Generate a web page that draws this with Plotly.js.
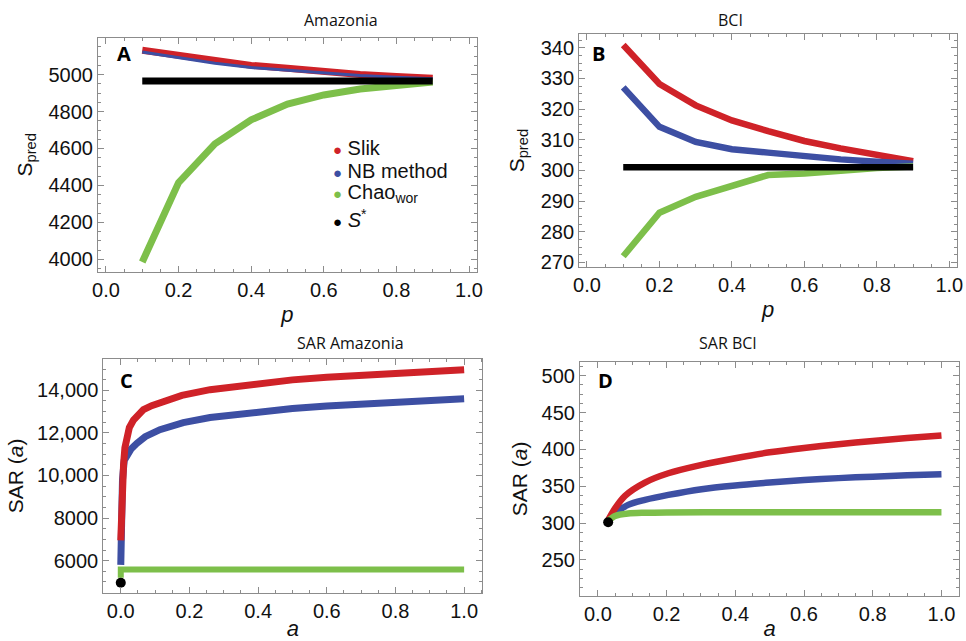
<!DOCTYPE html>
<html>
<head>
<meta charset="utf-8">
<script src="https://cdn.plot.ly/plotly-3.0.1.min.js"></script>
<style>html,body{margin:0;padding:0;background:#fff;}#chart{width:966px;height:641px;}</style>
</head>
<body>
<div id="chart"></div>
<script>
// ---- Panel A: Amazonia ----
const pA = [0.1, 0.2, 0.3, 0.4, 0.5, 0.6, 0.7, 0.8, 0.9];
const slikA = [5132, 5105, 5078, 5050, 5035, 5015, 5000, 4990, 4980];
const nbA   = [5122, 5092, 5062, 5038, 5024, 5008, 4995, 4986, 4978];
const chaoA = [3985, 4415, 4625, 4755, 4840, 4890, 4922, 4944, 4960];
const sStarA = 4965;
const pStarA = [0.1, 0.9];

// ---- Panel B: BCI ----
const pB = [0.1, 0.2, 0.3, 0.4, 0.5, 0.6, 0.7, 0.8, 0.9];
const slikB = [340.9, 328.2, 321.2, 316.3, 312.8, 309.6, 307.2, 304.9, 303.0];
const nbB   = [327.1, 314.2, 309.3, 306.9, 305.8, 304.5, 303.6, 302.8, 302.2];
const chaoB = [272.0, 286.2, 291.4, 295.2, 298.5, 299.0, 300.0, 300.8, 301.3];
const sStarB = 301;
const pStarB = [0.1, 0.9];

// ---- Panel C: SAR Amazonia ----
const aSlikC = [0, 0.002, 0.005, 0.008, 0.012, 0.017, 0.025, 0.037, 0.05, 0.066, 0.09, 0.114, 0.178, 0.26, 0.4, 0.5, 0.6, 0.7, 0.8, 0.9, 1.0];
const slikC  = [6950, 8500, 9600, 10500, 11300, 11820, 12250, 12600, 12850, 13090, 13280, 13420, 13760, 14030, 14340, 14490, 14610, 14720, 14810, 14895, 14970];
const aNbC   = [0, 0.002, 0.005, 0.01, 0.02, 0.03, 0.047, 0.071, 0.114, 0.182, 0.26, 0.4, 0.5, 0.6, 0.7, 0.8, 0.9, 1.0];
const nbC    = [5800, 8000, 9800, 10700, 11050, 11250, 11510, 11822, 12150, 12480, 12720, 13010, 13150, 13260, 13360, 13445, 13525, 13600];
const aChaoC = [0, 0, 1.0];
const chaoC  = [5200, 5580, 5580];
const sStarC = 4965;

// ---- Panel D: SAR BCI ----
const aSlikD = [0.03, 0.05, 0.079, 0.137, 0.205, 0.302, 0.4, 0.5, 0.6, 0.7, 0.8, 0.9, 1.0];
const slikD  = [304, 320, 337, 355, 367.6, 379, 388, 396, 402, 407, 411.5, 415.5, 419];
const aNbD   = [0.03, 0.05, 0.088, 0.137, 0.205, 0.302, 0.4, 0.5, 0.6, 0.7, 0.8, 0.9, 1.0];
const nbD    = [304, 313.4, 324.7, 331.4, 338.2, 346, 351, 355, 358.5, 361, 363, 365, 366.3];
const aChaoD = [0.03, 0.05, 0.088, 0.137, 0.2, 0.4, 0.6, 0.8, 1.0];
const chaoD  = [303, 309.7, 313, 314, 314.5, 314.6, 314.7, 314.8, 314.8];
const aStarD = 0.03;
const sStarD = 301;

// tick labels
const xTicks = [0, 0.2, 0.4, 0.6, 0.8, 1.0];
const xTickText = ['0.0', '0.2', '0.4', '0.6', '0.8', '1.0'];
const yTicksA = [4000, 4200, 4400, 4600, 4800, 5000];
const yTicksB = [270, 280, 290, 300, 310, 320, 330, 340];
const yTicksC = [6000, 8000, 10000, 12000, 14000];
const yTickTextC = ['6000', '8000', '10,000', '12,000', '14,000'];
const yTicksD = [250, 300, 350, 400, 450, 500];

const seriesNames = ['Slik', 'NB method', 'Chao<sub>wor</sub>', '<i>S</i><sup>*</sup>'];

const RED = '#cf2228', BLUE = '#3d4fa3', GREEN = '#7dbf4a', BLACK = '#000000';
const colors = [RED, BLUE, GREEN, BLACK];

function ln(x, y, color, w, xa, ya, shape) {
  return {x: x, y: y, mode: 'lines', line: {color: color, width: w, shape: shape || 'linear', smoothing: 0.8},
          xaxis: xa, yaxis: ya, showlegend: false, hoverinfo: 'skip'};
}
function dot(x, y, xa, ya) {
  return {x: x, y: y, mode: 'markers', marker: {color: BLACK, size: 10}, xaxis: xa, yaxis: ya,
          showlegend: false, hoverinfo: 'skip'};
}

const traces = [
  ln(pA, slikA, RED, 7, 'x', 'y'),
  ln(pA, nbA, BLUE, 3, 'x', 'y'),
  ln(pA, chaoA, GREEN, 7, 'x', 'y'),
  ln(pStarA, [sStarA, sStarA], BLACK, 7, 'x', 'y'),

  ln(pB, slikB, RED, 6.5, 'x2', 'y2'),
  ln(pB, nbB, BLUE, 6.5, 'x2', 'y2'),
  ln(pB, chaoB, GREEN, 6.5, 'x2', 'y2'),
  ln(pStarB, [sStarB, sStarB], BLACK, 6.5, 'x2', 'y2'),

  ln(aNbC, nbC, BLUE, 7, 'x3', 'y3'),
  ln(aSlikC, slikC, RED, 7, 'x3', 'y3'),
  ln(aChaoC, chaoC, GREEN, 6, 'x3', 'y3'),
  dot([0], [sStarC], 'x3', 'y3'),

  ln(aNbD, nbD, BLUE, 6.5, 'x4', 'y4', 'spline'),
  ln(aSlikD, slikD, RED, 6.5, 'x4', 'y4', 'spline'),
  ln(aChaoD, chaoD, GREEN, 6.5, 'x4', 'y4', 'spline'),
  dot([aStarD], [sStarD], 'x4', 'y4')
];

const FONT = 'Liberation Sans, Arial, Helvetica, sans-serif';
const TFONT = 'Open Sans, Lato, sans-serif';
const FRAME = '#8c8c8c';

function axis(extra) {
  const base = {
    showline: true, mirror: 'ticks', linecolor: FRAME, linewidth: 1,
    ticks: 'inside', ticklen: 6, tickwidth: 1, tickcolor: FRAME,
    showgrid: false, zeroline: false,
    tickfont: {family: FONT, size: 20, color: '#111'},
    minor: {ticks: 'inside', ticklen: 3, tickwidth: 1, tickcolor: FRAME, showgrid: false}
  };
  for (const k in extra) {
    if (k === 'minor') { Object.assign(base.minor, extra.minor); }
    else base[k] = extra[k];
  }
  return base;
}

function xax(domain, anchor, title, range) {
  return axis({
    domain: domain, anchor: anchor, range: range,
    tickmode: 'array', tickvals: xTicks, ticktext: xTickText,
    minor: {tickmode: 'linear', tick0: 0, dtick: 0.05},
    title: {text: title, font: {family: FONT, size: 22, color: '#111'}, standoff: 6}
  });
}

// legend drawn as text rows (bullet + name)
const legendRowsY = [0.769, 0.733, 0.6987, 0.6597];
const legendAnn = seriesNames.map(function (nm, i) {
  return {text: '<span style="color:' + colors[i] + ';font-size:15px">\u25CF</span> ' + nm,
          x: 0.3424, y: legendRowsY[i], xref: 'paper', yref: 'paper', xanchor: 'left', yanchor: 'middle',
          showarrow: false, align: 'left', font: {family: FONT, size: 20, color: '#111'}};
});

const layout = {
  width: 966, height: 641,
  margin: {l: 0, r: 0, t: 0, b: 0},
  paper_bgcolor: '#fff', plot_bgcolor: '#fff',
  font: {family: FONT, color: '#111'},
  showlegend: false,
  xaxis: xax([0.1014, 0.4938], 'y', '<i>p</i>', [-0.022, 1.022]),
  yaxis: axis({domain: [0.5757, 0.9412], anchor: 'x', range: [3931, 5200],
               tickmode: 'array', tickvals: yTicksA,
               minor: {tickmode: 'linear', tick0: 0, dtick: 50},
               title: {text: 'S<sub>pred</sub>', font: {family: FONT, size: 21, color: '#111'}, standoff: 10}}),
  xaxis2: xax([0.5994, 0.9910], 'y2', '<i>p</i>', [-0.022, 1.022]),
  yaxis2: axis({domain: [0.583, 0.947], anchor: 'x2', range: [268.4, 344.5],
               tickmode: 'array', tickvals: yTicksB,
               minor: {tickmode: 'linear', tick0: 0, dtick: 2.5},
               title: {text: 'S<sub>pred</sub>', font: {family: FONT, size: 21, color: '#111'}, standoff: 10}}),
  xaxis3: xax([0.1069, 0.4993], 'y3', '<i>a</i>', [-0.051, 1.053]),
  yaxis3: axis({domain: [0.0749, 0.4404], anchor: 'x3', range: [4483, 15484],
               tickmode: 'array', tickvals: yTicksC, ticktext: yTickTextC,
               minor: {tickmode: 'linear', tick0: 0, dtick: 500},
               title: {text: 'SAR (<i>a</i>)', font: {family: FONT, size: 21, color: '#111'}, standoff: 7}}),
  xaxis4: xax([0.6004, 0.9931], 'y4', '<i>a</i>', [-0.052, 1.052]),
  yaxis4: axis({domain: [0.0702, 0.4357], anchor: 'x4', range: [201, 519],
               tickmode: 'array', tickvals: yTicksD,
               minor: {tickmode: 'linear', tick0: 0, dtick: 12.5},
               title: {text: 'SAR (<i>a</i>)', font: {family: FONT, size: 21, color: '#111'}, standoff: 8}}),
  annotations: [
    {text: 'Amazonia', x: 0.3126, y: 0.989, xref: 'paper', yref: 'paper', showarrow: false,
     font: {family: TFONT, size: 16, color: '#111'}},
    {text: 'BCI', x: 0.7712, y: 0.989, xref: 'paper', yref: 'paper', showarrow: false,
     font: {family: TFONT, size: 16, color: '#111'}},
    {text: 'SAR Amazonia', x: 0.3054, y: 0.465, xref: 'paper', yref: 'paper', showarrow: false,
     font: {family: TFONT, size: 16, color: '#111'}},
    {text: 'SAR BCI', x: 0.7857, y: 0.465, xref: 'paper', yref: 'paper', showarrow: false,
     font: {family: TFONT, size: 16, color: '#111'}},
    {text: '<b>A</b>', x: 0.119, y: 0.9405, xref: 'paper', yref: 'paper', showarrow: false,
     font: {family: TFONT, size: 20, color: '#000'}},
    {text: '<b>B</b>', x: 0.620, y: 0.9405, xref: 'paper', yref: 'paper', showarrow: false,
     font: {family: TFONT, size: 20, color: '#000'}},
    {text: '<b>C</b>', x: 0.1225, y: 0.407, xref: 'paper', yref: 'paper', showarrow: false,
     font: {family: TFONT, size: 20, color: '#000'}},
    {text: '<b>D</b>', x: 0.627, y: 0.406, xref: 'paper', yref: 'paper', showarrow: false,
     font: {family: TFONT, size: 20, color: '#000'}}
  ].concat(legendAnn)
};

Plotly.newPlot('chart', traces, layout, {displayModeBar: false, staticPlot: true});
</script>
</body>
</html>
